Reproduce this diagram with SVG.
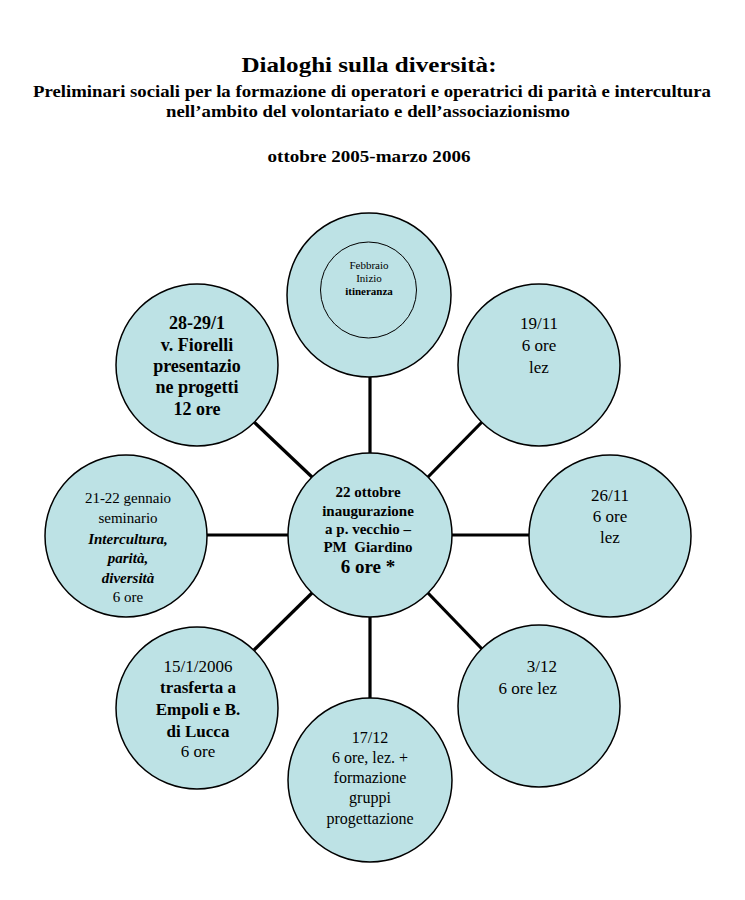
<svg xmlns="http://www.w3.org/2000/svg" width="745" height="900" viewBox="0 0 745 900">
<style>
text{font-family:"Liberation Serif","Times New Roman",serif;fill:#000;text-anchor:middle}
.t{font-weight:bold}
.b{font-weight:bold}
.i{font-style:italic;font-weight:bold}
circle.n{fill:#bde2e5;stroke:#000;stroke-width:1.5}
.spoke{stroke:#000;stroke-width:3.2;fill:none}
</style>
<rect width="745" height="900" fill="#fff"/>
<g id="title">
<text class="t" x="369" y="72" font-size="22" textLength="255" lengthAdjust="spacingAndGlyphs">Dialoghi sulla diversità:</text>
<text class="t" x="372" y="97" font-size="16.5" textLength="678" lengthAdjust="spacingAndGlyphs">Preliminari sociali per la formazione di operatori e operatrici di parità e intercultura</text>
<text class="t" x="368" y="117" font-size="16.5" textLength="404" lengthAdjust="spacingAndGlyphs">nell’ambito del volontariato e dell’associazionismo</text>
<text class="t" x="369" y="162" font-size="16.5" textLength="203" lengthAdjust="spacingAndGlyphs">ottobre 2005-marzo 2006</text>
</g>
<g id="connectors">
<line class="spoke" x1="370" y1="453" x2="370" y2="377"/>
<line class="spoke" x1="312" y1="477" x2="254" y2="422"/>
<line class="spoke" x1="428" y1="477" x2="482" y2="422"/>
<line class="spoke" x1="288" y1="535" x2="207" y2="535"/>
<line class="spoke" x1="452" y1="535" x2="529" y2="535"/>
<line class="spoke" x1="312" y1="593" x2="254" y2="650"/>
<line class="spoke" x1="428" y1="593" x2="482" y2="649"/>
<line class="spoke" x1="370" y1="617" x2="370" y2="698"/>
</g>
<g id="node-febbraio">
<circle class="n" cx="369" cy="295" r="82"/>
<circle cx="368.5" cy="290" r="48" fill="none" stroke="#000" stroke-width="1"/>
<text x="369" y="269" font-size="11">Febbraio</text>
<text x="369" y="282" font-size="11">Inizio</text>
<text class="b" x="369" y="295" font-size="11">itineranza</text>
</g>
<g id="node-2829">
<circle class="n" cx="197" cy="365" r="81"/>
<text class="b" font-size="18" x="197" y="329">28-29/1</text>
<text class="b" font-size="18" x="197" y="351">v. Fiorelli</text>
<text class="b" font-size="18" x="197" y="372">presentazio</text>
<text class="b" font-size="18" x="197" y="393">ne progetti</text>
<text class="b" font-size="18" x="197" y="415">12 ore</text>
</g>
<g id="node-1911">
<circle class="n" cx="539" cy="365" r="81"/>
<text font-size="17" x="539" y="329">19/11</text>
<text font-size="17" x="539" y="351">6 ore</text>
<text font-size="17" x="539" y="373">lez</text>
</g>
<g id="node-2122">
<circle class="n" cx="126" cy="536" r="81"/>
<text font-size="15" x="128" y="503">21-22 gennaio</text>
<text font-size="15" x="128" y="523">seminario</text>
<text class="i" font-size="15" x="128" y="544">Intercultura,</text>
<text class="i" font-size="15" x="128" y="563">parità,</text>
<text class="i" font-size="15" x="128" y="583">diversità</text>
<text font-size="15" x="128" y="602">6 ore</text>
</g>
<g id="node-center">
<circle class="n" cx="370" cy="535" r="82"/>
<text class="b" font-size="15" x="368" y="497">22 ottobre</text>
<text class="b" font-size="15" x="368" y="516">inaugurazione</text>
<text class="b" font-size="15" x="368" y="534">a p. vecchio –</text>
<text class="b" font-size="15" x="368" y="552" xml:space="preserve">PM  Giardino</text>
<text class="b" font-size="19" x="368" y="573">6 ore *</text>
</g>
<g id="node-2611">
<circle class="n" cx="610" cy="536" r="81"/>
<text font-size="17" x="610" y="501">26/11</text>
<text font-size="17" x="610" y="522">6 ore</text>
<text font-size="17" x="610" y="543">lez</text>
</g>
<g id="node-1512006">
<circle class="n" cx="197" cy="708" r="81"/>
<text font-size="17" x="198" y="672">15/1/2006</text>
<text class="b" font-size="17" x="198" y="693">trasferta a</text>
<text class="b" font-size="17" x="198" y="715">Empoli e B.</text>
<text class="b" font-size="17" x="198" y="737">di Lucca</text>
<text font-size="17" x="198" y="757">6 ore</text>
</g>
<g id="node-312">
<circle class="n" cx="539" cy="706" r="81"/>
<text font-size="17" x="557" y="672" style="text-anchor:end">3/12</text>
<text font-size="17" x="557" y="694" style="text-anchor:end">6 ore lez</text>
</g>
<g id="node-1712">
<circle class="n" cx="370" cy="780" r="82"/>
<text font-size="16" x="370" y="743">17/12</text>
<text font-size="16" x="370" y="763">6 ore, lez. +</text>
<text font-size="16" x="370" y="783">formazione</text>
<text font-size="16" x="370" y="803">gruppi</text>
<text font-size="16" x="370" y="824">progettazione</text>
</g>
</svg>
